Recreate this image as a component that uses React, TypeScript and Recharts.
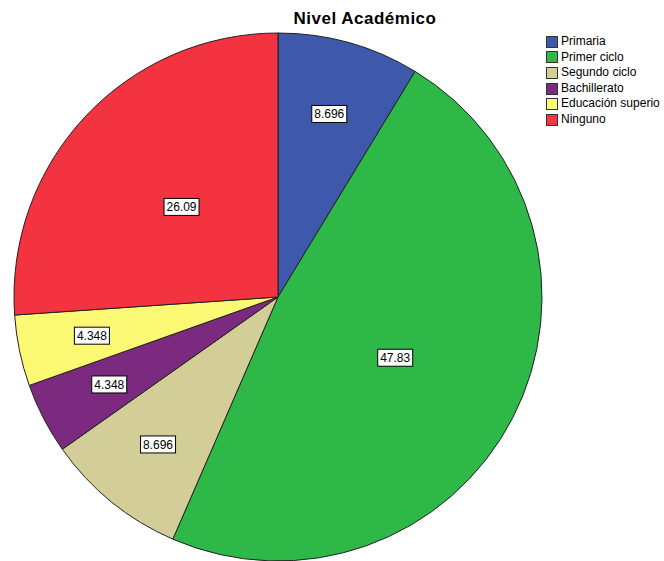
import React from 'react';
import { PieChart, Pie, Cell } from 'recharts';

const categories = ['Primaria', 'Primer ciclo', 'Segundo ciclo', 'Bachillerato', 'Educación superio', 'Ninguno'];
const values = [8.696, 47.83, 8.696, 4.348, 4.348, 26.09];
const labels = ['8.696', '47.83', '8.696', '4.348', '4.348', '26.09'];
const colors = ['#3e58ac', '#2eb848', '#d3ce97', '#7b2a7f', '#fbf873', '#f3333f'];

const data = categories.map((name, i) => ({ name, value: values[i], label: labels[i] }));

const FONT = 'Arial, "Liberation Sans", sans-serif';

const RADIAN = Math.PI / 180;

const renderLabel = (props: any) => {
  const { cx, cy, midAngle, outerRadius, percent, index } = props;
  const frac = percent < 0.1 ? 0.72 : 0.5;
  const r = outerRadius * frac;
  const x = cx + r * Math.cos(-midAngle * RADIAN);
  const y = cy + r * Math.sin(-midAngle * RADIAN);
  const text = data[index].label;
  const w = text.length * 6.4 + 3;
  const h = 17;
  return (
    <g>
      <rect x={x - w / 2} y={y - h / 2} width={w} height={h} fill="#ffffff" stroke="#000000" strokeWidth={1} />
      <text x={x} y={y + 0.5} textAnchor="middle" dominantBaseline="central" fontSize={12} fontFamily={FONT} fill="#000">
        {text}
      </text>
    </g>
  );
};

export default function App() {
  return (
    <div style={{ position: 'absolute', left: 0, top: 0, width: 664, height: 561, background: '#fff', overflow: 'hidden' }}>
      <PieChart width={664} height={561} margin={{ top: 0, right: 0, bottom: 0, left: 0 }}>
        <text x={365} y={18} textAnchor="middle" dominantBaseline="central" fontSize={17} letterSpacing={0.5} fontWeight="bold" fontFamily={FONT} fill="#000">
          Nivel Académico
        </text>
        <Pie
          data={data}
          dataKey="value"
          nameKey="name"
          cx={278}
          cy={297}
          outerRadius={264}
          startAngle={90}
          endAngle={-270}
          stroke="#222"
          strokeWidth={1}
          label={renderLabel}
          labelLine={false}
          isAnimationActive={false}
        >
          {data.map((d, i) => (
            <Cell key={d.name} fill={colors[i]} />
          ))}
        </Pie>
      </PieChart>
      <div style={{ position: 'absolute', left: 546, top: 34, fontFamily: FONT, fontSize: 12, lineHeight: '15.6px' }}>
        {data.map((d, i) => (
          <div key={d.name} style={{ display: 'flex', alignItems: 'center', height: 15.6, whiteSpace: 'nowrap' }}>
            <span style={{ display: 'inline-block', width: 10, height: 10, background: colors[i], border: '1px solid #333', marginRight: 3 }} />
            <span>{d.name}</span>
          </div>
        ))}
      </div>
    </div>
  );
}
